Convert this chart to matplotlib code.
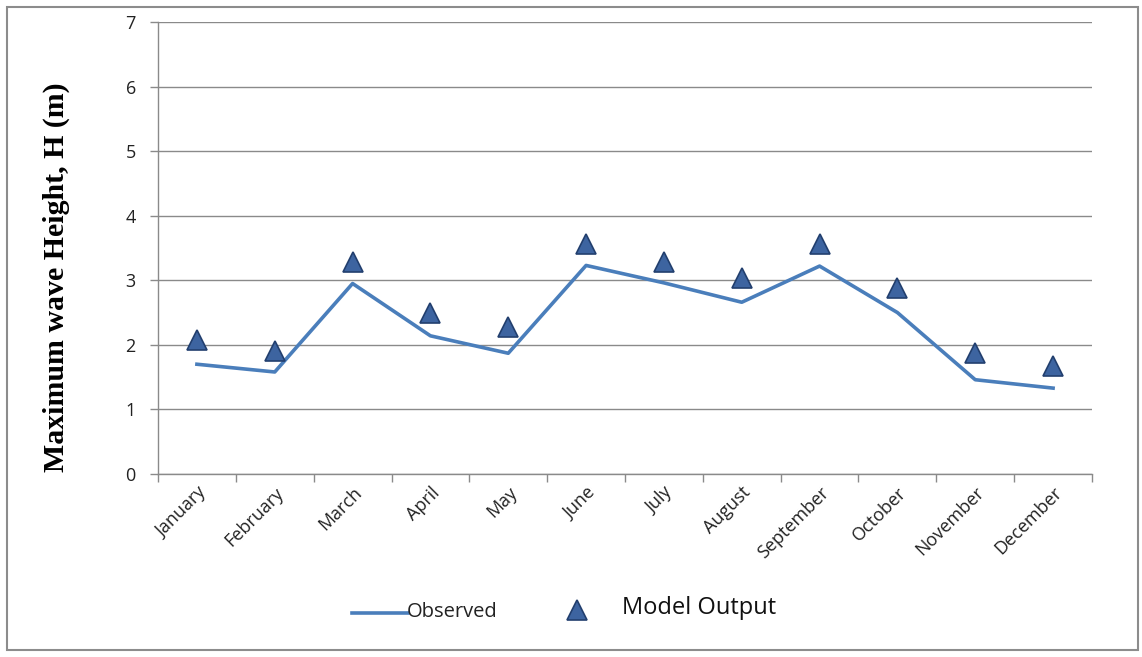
import matplotlib
matplotlib.use("Agg")
import matplotlib.pyplot as plt
from matplotlib.lines import Line2D
from matplotlib.patches import Rectangle
import numpy as np

months = ["January", "February", "March", "April", "May", "June", "July",
          "August", "September", "October", "November", "December"]
observed = [1.70, 1.58, 2.95, 2.14, 1.87, 3.23, 2.96, 2.66, 3.22, 2.50, 1.46, 1.33]
model_output = [2.08, 1.90, 3.28, 2.50, 2.28, 3.56, 3.28, 3.03, 3.56, 2.88, 1.88, 1.68]
y_ticks = [0, 1, 2, 3, 4, 5, 6, 7]

W, H = 1142, 657
fig = plt.figure(figsize=(W / 100, H / 100), dpi=100)
fig.patch.set_facecolor("white")


def fx(px):
    return px / W


def fy(py):
    return 1 - py / H


# outer frame of the chart
fig.patches.append(Rectangle((fx(7), fy(650)), (1138 - 7) / W, (650 - 7) / H,
                             transform=fig.transFigure, fill=False,
                             edgecolor="#8c8c8c", linewidth=1.5))

ax = fig.add_axes([fx(158), fy(474), (1092 - 158) / W, (474 - 22) / H])
x = np.arange(len(months))

ax.set_xlim(-0.5, len(months) - 0.5)
ax.set_ylim(0, 7)
ax.set_yticks(y_ticks)
ax.set_yticklabels([str(v) for v in y_ticks], fontsize=13, family="Open Sans",
                   color="#222222")
ax.yaxis.grid(True, color="#8a8a8a", linewidth=1.0)
ax.set_axisbelow(True)

# category ticks sit between months
ax.set_xticks(np.arange(-0.5, len(months), 1.0), minor=False)
ax.set_xticklabels([])
ax.set_xticks(x, minor=True)
ax.set_xticklabels(months, minor=True, rotation=45, ha="right",
                   rotation_mode="anchor", fontsize=13, family="Open Sans",
                   color="#222222")
ax.tick_params(axis="x", which="minor", length=0, pad=7)
ax.tick_params(axis="x", which="major", length=6, color="#8a8a8a", width=1)
ax.tick_params(axis="y", length=6, color="#8a8a8a", width=1, pad=10)

for side in ["top", "right"]:
    ax.spines[side].set_visible(False)
for side in ["left", "bottom"]:
    ax.spines[side].set_color("#8a8a8a")
    ax.spines[side].set_linewidth(1.0)

line_style = dict(color="#4a7ebb", linewidth=2.6)
marker_style = dict(marker="^", markerfacecolor="#3d64a0",
                    markeredgecolor="#223f6e", markeredgewidth=1.2)

ax.plot(x, observed, zorder=3, **line_style)
ax.plot(x, model_output, linestyle="none", markersize=15, zorder=4,
        **marker_style)

ax.set_ylabel("Maximum wave Height, H (m)", family="Liberation Serif",
              fontweight="bold", fontsize=21.5)
ax.yaxis.set_label_coords((70 - 158) / 934, (474 - 277) / 452)

# legend entries
fig.add_artist(Line2D([fx(352), fx(408)], [fy(613), fy(613)],
                      transform=fig.transFigure, **line_style))
fig.text(fx(407), fy(612), "Observed", family="Open Sans", fontsize=14.5,
         va="center", ha="left", color="#222222")
fig.add_artist(Line2D([fx(577)], [fy(610)], transform=fig.transFigure,
                      linestyle="none", markersize=15, **marker_style))
fig.text(fx(622), fy(608), "Model Output", family="Open Sans", fontsize=17,
         va="center", ha="left", color="#111111")

fig.savefig("out.png", dpi=100, facecolor="white")
